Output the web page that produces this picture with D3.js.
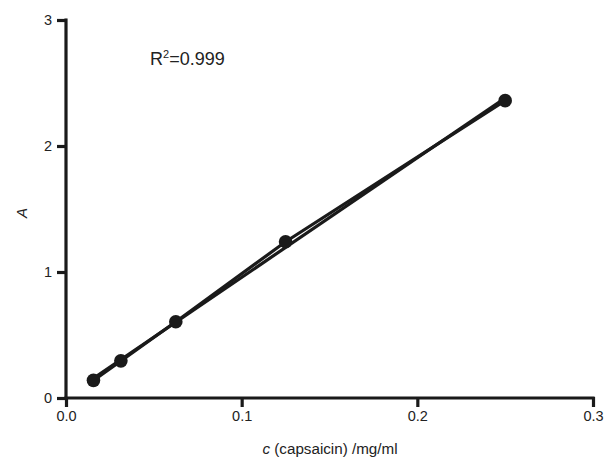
<!DOCTYPE html>
<html><head><meta charset="utf-8">
<script src="https://cdn.jsdelivr.net/npm/d3@7"></script>
<style>body{margin:0;background:#fff}svg{display:block}text{font-family:"Liberation Sans",Arial,sans-serif}</style>
</head><body><svg id="c" width="605" height="460"></svg>
<script>
const concentrations = [0.015625, 0.03125, 0.0625, 0.125, 0.25];
const absorbance = [0.14, 0.295, 0.605, 1.24, 2.36];
const xTicks = [0, 0.1, 0.2, 0.3];
const xTickLabels = ["0.0", "0.1", "0.2", "0.3"];
const yTicks = [0, 1, 2, 3];
const r2Label = "0.999";

const svg = d3.select("#c");
const x = d3.scaleLinear().domain([0, 0.3]).range([66, 593]);
const y = d3.scaleLinear().domain([0, 3]).range([398, 20]);
const col = "#1a1a1a";

// axes
const xAxis = svg.append("g").attr("transform", "translate(0,398)")
  .call(d3.axisBottom(x).tickValues(xTicks).tickFormat((d,i)=>xTickLabels[i]).tickSize(9).tickSizeOuter(0).tickPadding(4));
const yAxis = svg.append("g").attr("transform", "translate(66,0)")
  .call(d3.axisLeft(y).tickValues(yTicks).tickFormat(d3.format("d")).tickSize(9).tickSizeOuter(0).tickPadding(5));
[xAxis, yAxis].forEach(g => {
  g.select(".domain").attr("stroke", col).attr("stroke-width", 3.2);
  g.selectAll(".tick line").attr("stroke", col).attr("stroke-width", 3.2);
  g.selectAll(".tick text").attr("fill", "#222").attr("font-size", 14.5)
   .attr("font-family", '"Liberation Sans",Arial,sans-serif');
});
xAxis.selectAll(".tick line").attr("y1", -1);
yAxis.selectAll(".tick line").attr("x1", 1);
xAxis.select(".domain").attr("d", `M${x(0)-1.6},0H${x(0.3)+1.6}`);
yAxis.select(".domain").attr("d", `M0,${y(0)+1.6}V${y(3)-1.6}`);

// regression line
const n = concentrations.length;
const mx = d3.mean(concentrations), my = d3.mean(absorbance);
let sxy = 0, sxx = 0;
for (let i = 0; i < n; i++) { sxy += (concentrations[i]-mx)*(absorbance[i]-my); sxx += (concentrations[i]-mx)**2; }
const slope = sxy/sxx, icpt = my - slope*mx;
const x0 = d3.min(concentrations), x1 = d3.max(concentrations);
svg.append("line").attr("x1", x(x0)).attr("y1", y(icpt+slope*x0))
  .attr("x2", x(x1)).attr("y2", y(icpt+slope*x1))
  .attr("stroke", col).attr("stroke-width", 3.2);

// connecting line
const pts = concentrations.map((c,i)=>[c, absorbance[i]]);
svg.append("path").attr("d", d3.line().x(d=>x(d[0])).y(d=>y(d[1]))(pts))
  .attr("fill","none").attr("stroke", col).attr("stroke-width", 3.2);

// points
svg.selectAll("circle.p").data(pts).join("circle").attr("class","p")
  .attr("cx", d=>x(d[0])).attr("cy", d=>y(d[1])).attr("r", 6.8).attr("fill", col);

// R^2 label
const t = svg.append("text").attr("x", 150).attr("y", 65).attr("font-size", 18).attr("fill", "#222");
t.append("tspan").text("R");
t.append("tspan").attr("dy", -7).attr("font-size", 11).text("2");
t.append("tspan").attr("dy", 7).text("=" + r2Label);

// axis titles
svg.append("text").attr("transform", "translate(27,213) rotate(-90)").attr("text-anchor","middle")
  .attr("font-size", 15).attr("font-style","italic").attr("fill","#222").text("A");
const xl = svg.append("text").attr("x", 330).attr("y", 454).attr("text-anchor","middle")
  .attr("font-size", 15.2).attr("fill","#222");
xl.append("tspan").attr("font-style","italic").text("c");
xl.append("tspan").text(" (capsaicin) /mg/ml");
</script></body></html>
